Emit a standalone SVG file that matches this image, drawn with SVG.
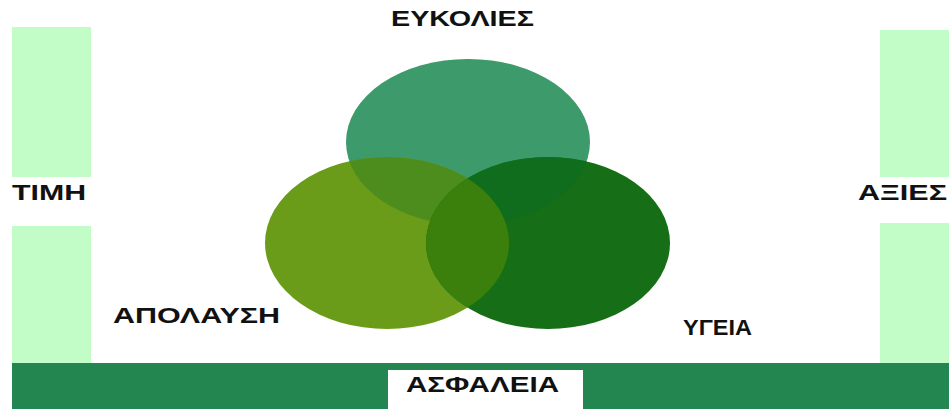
<svg xmlns="http://www.w3.org/2000/svg" width="949" height="409" viewBox="0 0 949 409">
<style>
.bar{fill:#c2fcc6}
.lbl{font-family:"Liberation Sans",Arial,sans-serif;font-size:22px;font-weight:bold;fill:#111}
</style>
<defs>
<clipPath id="clipLeft"><ellipse cx="387" cy="243" rx="122" ry="86"/></clipPath>
<clipPath id="clipRight"><ellipse cx="548" cy="243" rx="122" ry="86"/></clipPath>
</defs>
<rect width="949" height="409" fill="#ffffff"/>
<g id="pillars">
<rect class="bar" x="12" y="27" width="79" height="150"/>
<rect class="bar" x="12" y="226" width="79" height="138"/>
<rect class="bar" x="880" y="30" width="69" height="147"/>
<rect class="bar" x="880" y="223" width="69" height="141"/>
</g>
<g id="base">
<rect x="12" y="363" width="937" height="46" fill="#238550"/>
<rect x="388" y="370" width="195" height="39" fill="#ffffff"/>
<text class="lbl" x="406" y="392" textLength="153" lengthAdjust="spacingAndGlyphs">ΑΣΦΑΛΕΙΑ</text>
</g>
<g id="venn">
<ellipse id="eykolies-circle" cx="468" cy="142" rx="122" ry="83" fill="#3d9a6a"/>
<ellipse id="apolaysi-circle" cx="387" cy="243" rx="122" ry="86" fill="#6b9c19"/>
<ellipse id="ygeia-circle" cx="548" cy="243" rx="122" ry="86" fill="#166f16"/>
<ellipse cx="468" cy="142" rx="122" ry="83" fill="#4d8d1e" clip-path="url(#clipLeft)"/>
<ellipse cx="468" cy="142" rx="122" ry="83" fill="#0f6d1d" clip-path="url(#clipRight)"/>
<ellipse cx="387" cy="243" rx="122" ry="86" fill="#3b800c" clip-path="url(#clipRight)"/>
</g>
<g id="labels">
<text class="lbl" x="391" y="26" textLength="143" lengthAdjust="spacingAndGlyphs">ΕΥΚΟΛΙΕΣ</text>
<text class="lbl" x="12" y="200" textLength="74" lengthAdjust="spacingAndGlyphs">ΤΙΜΗ</text>
<text class="lbl" x="858" y="200" textLength="89" lengthAdjust="spacingAndGlyphs">ΑΞΙΕΣ</text>
<text class="lbl" x="113" y="323" textLength="167" lengthAdjust="spacingAndGlyphs">ΑΠΟΛΑΥΣΗ</text>
<text class="lbl" x="683" y="335" textLength="69" lengthAdjust="spacingAndGlyphs">ΥΓΕΙΑ</text>
</g>
</svg>
